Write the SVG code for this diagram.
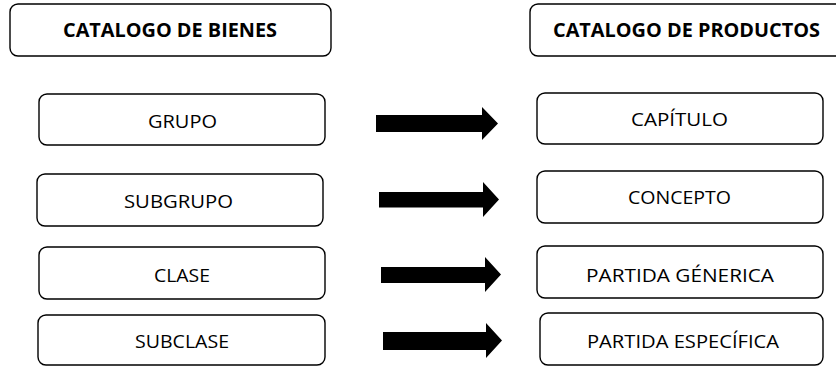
<svg xmlns="http://www.w3.org/2000/svg" width="836" height="366" viewBox="0 0 836 366">
<style>
.box{fill:#fff;stroke:#000;stroke-width:1.4}
.t{font-family:"Open Sans","Liberation Sans",sans-serif;font-size:19px;fill:#000;text-anchor:middle}
.b{font-weight:bold}
.arr{fill:#000}
</style>
<rect width="836" height="366" fill="#fff"/>
<g id="title-bienes"><rect class="box" x="10" y="4" width="321" height="52" rx="8"/><text class="t b" x="170" y="37" textLength="214" lengthAdjust="spacingAndGlyphs">CATALOGO DE BIENES</text></g>
<g id="title-productos"><rect class="box" x="530" y="4" width="330" height="52" rx="8"/><text class="t b" x="686.5" y="37" textLength="267" lengthAdjust="spacingAndGlyphs">CATALOGO DE PRODUCTOS</text></g>
<g id="grupo"><rect class="box" x="39" y="94" width="286" height="51" rx="8"/><text class="t" x="182.5" y="127.5" textLength="69" lengthAdjust="spacingAndGlyphs">GRUPO</text></g>
<g id="subgrupo"><rect class="box" x="37" y="174" width="286" height="52" rx="8"/><text class="t" x="178.5" y="208" textLength="109" lengthAdjust="spacingAndGlyphs">SUBGRUPO</text></g>
<g id="clase"><rect class="box" x="39" y="247" width="286" height="52" rx="8"/><text class="t" x="182" y="282" textLength="56" lengthAdjust="spacingAndGlyphs">CLASE</text></g>
<g id="subclase"><rect class="box" x="38" y="315" width="287" height="50" rx="8"/><text class="t" x="182" y="348" textLength="94" lengthAdjust="spacingAndGlyphs">SUBCLASE</text></g>
<g id="capitulo"><rect class="box" x="537" y="93" width="286" height="51" rx="8"/><text class="t" x="679.5" y="126" textLength="97" lengthAdjust="spacingAndGlyphs">CAPÍTULO</text></g>
<g id="concepto"><rect class="box" x="537" y="171" width="286" height="52" rx="8"/><text class="t" x="679.5" y="204" textLength="103" lengthAdjust="spacingAndGlyphs">CONCEPTO</text></g>
<g id="partida-generica"><rect class="box" x="537" y="246" width="286" height="52" rx="8"/><text class="t" x="680" y="282" textLength="188" lengthAdjust="spacingAndGlyphs">PARTIDA GÉNERICA</text></g>
<g id="partida-especifica"><rect class="box" x="540" y="313" width="283" height="52" rx="8"/><text class="t" x="683" y="348" textLength="192" lengthAdjust="spacingAndGlyphs">PARTIDA ESPECÍFICA</text></g>
<g id="connectors">
<polygon class="arr" points="376,115 482,115 482,107 498,123.5 482,140 482,132 376,132"/>
<polygon class="arr" points="379,192 483,192 483,182 499,199.5 483,217 483,207.5 379,207.5"/>
<polygon class="arr" points="381,267 485,267 485,257 501,274.5 485,292 485,283 381,283"/>
<polygon class="arr" points="383,332 486,332 486,323 502,340.5 486,358 486,350 383,350"/>
</g>
</svg>
